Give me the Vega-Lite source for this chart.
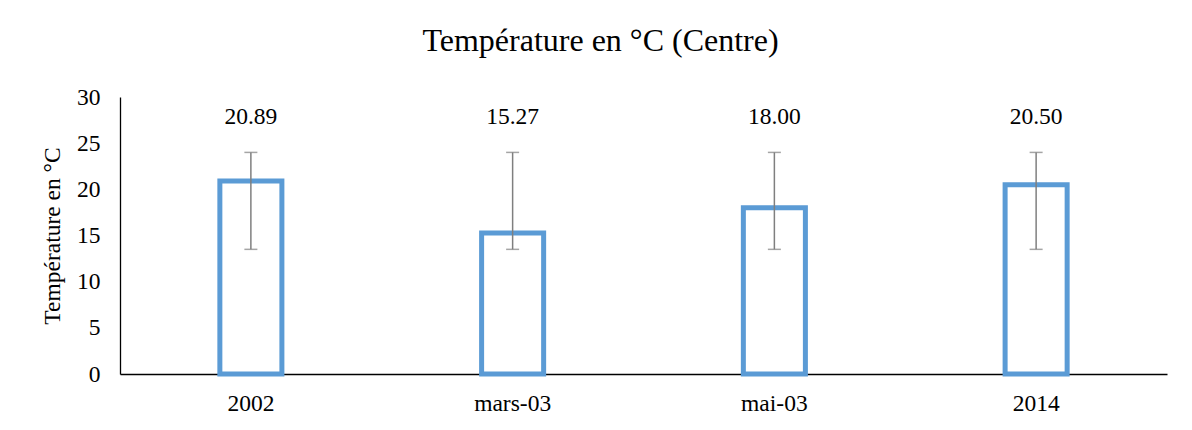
{
  "$schema": "https://vega.github.io/schema/vega-lite/v6.json",
  "width": 1047,
  "height": 277,
  "autosize": {"type": "none"},
  "padding": {"left": 120, "top": 97, "right": 25, "bottom": 56},
  "background": "white",
  "config": {
    "view": {"stroke": null},
    "font": "Liberation Serif"
  },
  "title": {
    "text": "Température en °C (Centre)",
    "font": "Liberation Serif",
    "fontSize": 32,
    "fontWeight": "normal",
    "color": "#000000",
    "anchor": "middle",
    "frame": "group",
    "dx": -43,
    "offset": 27
  },
  "data": {
    "values": [
      {"cat": "2002", "value": 20.89, "low": 13.5, "high": 24},
      {"cat": "mars-03", "value": 15.27, "low": 13.5, "high": 24},
      {"cat": "mai-03", "value": 18.0, "low": 13.5, "high": 24},
      {"cat": "2014", "value": 20.5, "low": 13.5, "high": 24}
    ]
  },
  "encoding": {
    "x": {
      "field": "cat",
      "type": "nominal",
      "sort": null,
      "scale": {"paddingInner": 0, "paddingOuter": 0},
      "axis": {
        "title": null,
        "labelAngle": 0,
        "labelFont": "Liberation Serif",
        "labelFontSize": 23.5,
        "labelColor": "#000000",
        "labelPadding": 17,
        "ticks": false,
        "domainColor": "#000000",
        "domainWidth": 1.3
      }
    }
  },
  "layer": [
    {
      "mark": {"type": "bar", "width": {"band": 0.237}, "fill": "white", "stroke": "#5B9BD5", "strokeWidth": 5},
      "encoding": {
        "y": {
          "field": "value",
          "type": "quantitative",
          "scale": {"domain": [0, 30]},
          "axis": {
            "title": "Température en °C",
            "titleFont": "Liberation Serif",
            "titleFontSize": 23.5,
            "titleFontWeight": "normal",
            "titleColor": "#000000",
            "titlePadding": 12,
            "values": [0, 5, 10, 15, 20, 25, 30],
            "labelFont": "Liberation Serif",
            "labelFontSize": 23.5,
            "labelColor": "#000000",
            "labelPadding": 20,
            "ticks": false,
            "grid": false,
            "domainColor": "#000000",
            "domainWidth": 1.3
          }
        }
      }
    },
    {
      "mark": {"type": "rule", "color": "#7F7F7F", "strokeWidth": 1.5},
      "encoding": {
        "y": {"field": "low", "type": "quantitative"},
        "y2": {"field": "high"}
      }
    },
    {
      "mark": {"type": "tick", "color": "#7F7F7F", "thickness": 1.5, "size": 13, "orient": "horizontal"},
      "encoding": {"y": {"field": "low", "type": "quantitative"}}
    },
    {
      "mark": {"type": "tick", "color": "#7F7F7F", "thickness": 1.5, "size": 13, "orient": "horizontal"},
      "encoding": {"y": {"field": "high", "type": "quantitative"}}
    },
    {
      "mark": {"type": "text", "font": "Liberation Serif", "fontSize": 23.5, "color": "#000000", "baseline": "middle"},
      "encoding": {
        "y": {"datum": 27.85},
        "text": {"field": "value", "type": "quantitative", "format": ".2f"}
      }
    }
  ]
}
